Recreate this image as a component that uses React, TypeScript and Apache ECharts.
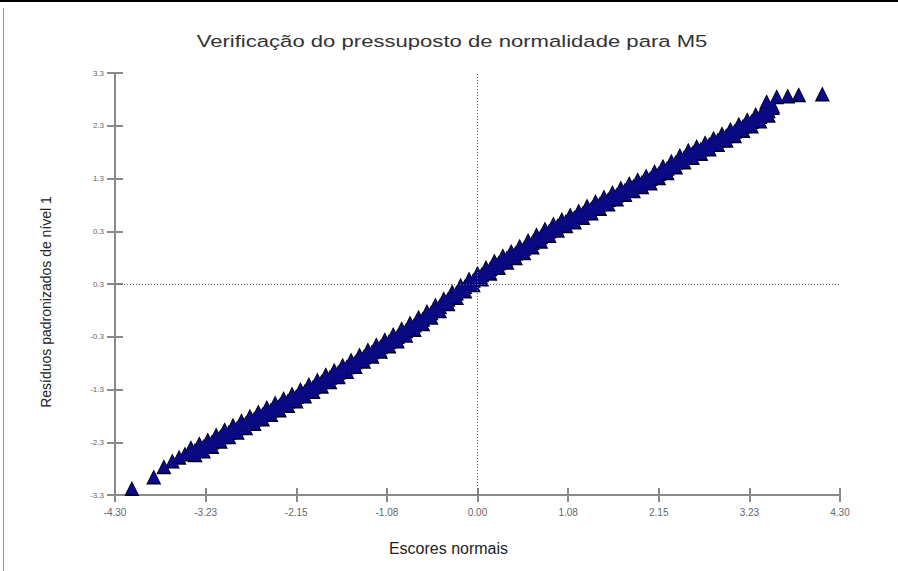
import React, { useEffect, useRef } from "react";
import * as echarts from "echarts";

const titleText = "Verificação do pressuposto de normalidade para M5";
const xAxisName = "Escores normais";
const yAxisName = "Resíduos padronizados de nível 1";

const xTickLabels = ["-4.30", "-3.23", "-2.15", "-1.08", "0.00", "1.08", "2.15", "3.23", "4.30"];
const yTickLabels = ["-3.3", "-2.3", "-1.3", "-0.3", "0.3", "0.3", "1.3", "2.3", "3.3"];

// lower tail (isolated triangles)
const lowTailX = [-4.1, -3.84, -3.72, -3.62, -3.54, -3.47];
const lowTailY = [-3.2, -3.02, -2.86, -2.77, -2.71, -2.66];

// dense band of points: normal scores
const bandX = [
  -3.4, -3.35, -3.3, -3.25, -3.2, -3.15, -3.1, -3.05, -3.0, -2.95, -2.9, -2.85, -2.8, -2.75, -2.7, -2.65,
  -2.6, -2.55, -2.5, -2.45, -2.4, -2.35, -2.3, -2.25, -2.2, -2.15, -2.1, -2.05, -2.0, -1.95, -1.9, -1.85,
  -1.8, -1.75, -1.7, -1.65, -1.6, -1.55, -1.5, -1.45, -1.4, -1.35, -1.3, -1.25, -1.2, -1.15, -1.1, -1.05,
  -1.0, -0.95, -0.9, -0.85, -0.8, -0.75, -0.7, -0.65, -0.6, -0.55, -0.5, -0.45, -0.4, -0.35, -0.3, -0.25,
  -0.2, -0.15, -0.1, -0.05, 0.0, 0.05, 0.1, 0.15, 0.2, 0.25, 0.3, 0.35, 0.4, 0.45, 0.5, 0.55,
  0.6, 0.65, 0.7, 0.75, 0.8, 0.85, 0.9, 0.95, 1.0, 1.05, 1.1, 1.15, 1.2, 1.25, 1.3, 1.35,
  1.4, 1.45, 1.5, 1.55, 1.6, 1.65, 1.7, 1.75, 1.8, 1.85, 1.9, 1.95, 2.0, 2.05, 2.1, 2.15,
  2.2, 2.25, 2.3, 2.35, 2.4, 2.45, 2.5, 2.55, 2.6, 2.65, 2.7, 2.75, 2.8, 2.85, 2.9, 2.95,
  3.0, 3.05, 3.1, 3.15, 3.2, 3.25, 3.3, 3.35, 3.4, 3.45, 3.5,
];
// residuals along the outer edges of the band (alternating upper / lower)
const bandEdgeY = [
  -2.56, -2.67, -2.5, -2.61, -2.44, -2.54, -2.36, -2.46, -2.28, -2.39, -2.21, -2.32, -2.14, -2.25, -2.07, -2.18,
  -2.0, -2.11, -1.93, -2.04, -1.86, -1.97, -1.79, -1.9, -1.72, -1.83, -1.65, -1.75, -1.57, -1.68, -1.5, -1.6,
  -1.42, -1.53, -1.35, -1.45, -1.27, -1.37, -1.19, -1.29, -1.11, -1.21, -1.03, -1.13, -0.95, -1.05, -0.87, -0.97,
  -0.79, -0.89, -0.7, -0.8, -0.61, -0.71, -0.52, -0.62, -0.43, -0.52, -0.33, -0.42, -0.23, -0.31, -0.12, -0.21,
  -0.02, -0.11, 0.08, -0.01, 0.17, 0.08, 0.26, 0.17, 0.36, 0.26, 0.44, 0.34, 0.51, 0.41, 0.59, 0.49,
  0.68, 0.58, 0.77, 0.67, 0.86, 0.76, 0.94, 0.84, 1.01, 0.91, 1.08, 0.97, 1.14, 1.04, 1.22, 1.11,
  1.29, 1.18, 1.36, 1.25, 1.43, 1.33, 1.5, 1.4, 1.57, 1.46, 1.63, 1.52, 1.69, 1.58, 1.76, 1.66,
  1.84, 1.74, 1.92, 1.83, 2.01, 1.91, 2.09, 1.98, 2.15, 2.04, 2.21, 2.11, 2.28, 2.18, 2.35, 2.25,
  2.42, 2.32, 2.5, 2.4, 2.57, 2.47, 2.65, 2.55, 2.73, 2.64, 2.79,
];
// residuals along the middle of the band
const bandMidY = [
  -2.63, -2.6, -2.57, -2.54, -2.51, -2.47, -2.43, -2.39, -2.35, -2.32, -2.28, -2.25, -2.21, -2.18, -2.14, -2.11,
  -2.07, -2.04, -2.0, -1.97, -1.93, -1.9, -1.86, -1.83, -1.79, -1.76, -1.72, -1.68, -1.64, -1.61, -1.57, -1.53,
  -1.49, -1.46, -1.42, -1.38, -1.34, -1.3, -1.26, -1.22, -1.18, -1.14, -1.1, -1.06, -1.02, -0.98, -0.94, -0.9,
  -0.86, -0.82, -0.77, -0.73, -0.68, -0.64, -0.59, -0.55, -0.5, -0.45, -0.4, -0.35, -0.3, -0.24, -0.19, -0.14,
  -0.09, -0.04, 0.01, 0.06, 0.1, 0.15, 0.19, 0.24, 0.29, 0.33, 0.37, 0.41, 0.44, 0.48, 0.52, 0.56,
  0.61, 0.65, 0.7, 0.74, 0.79, 0.83, 0.87, 0.91, 0.94, 0.98, 1.01, 1.04, 1.07, 1.11, 1.15, 1.18,
  1.22, 1.25, 1.29, 1.32, 1.36, 1.39, 1.43, 1.47, 1.5, 1.53, 1.56, 1.59, 1.62, 1.65, 1.69, 1.73,
  1.77, 1.81, 1.85, 1.9, 1.94, 1.98, 2.02, 2.05, 2.08, 2.11, 2.14, 2.18, 2.21, 2.25, 2.28, 2.32,
  2.35, 2.39, 2.43, 2.47, 2.5, 2.54, 2.58, 2.62, 2.66, 2.71, 2.76,
];

// upper tail (isolated triangles)
const highTailX = [3.43, 3.55, 3.68, 3.81, 4.09];
const highTailY = [2.85, 2.93, 2.94, 2.96, 2.97];

const X_MIN = -4.3;
const X_MAX = 4.3;
const X_STEP = 1.075;
const Y_MIN = -3.3;
const Y_MAX = 3.3;
const Y_STEP = 0.825;

const FONT = "'Liberation Sans', Arial, sans-serif";

export default function App() {
  const ref = useRef<HTMLDivElement>(null);

  useEffect(() => {
    if (!ref.current) return;
    const chart = echarts.init(ref.current, undefined, { renderer: "svg" });

    const points: number[][] = [];
    lowTailX.forEach((x, i) => points.push([x, lowTailY[i]]));
    bandX.forEach((x, i) => points.push([x, bandEdgeY[i]]));
    bandX.forEach((x, i) => points.push([x, bandMidY[i]]));
    highTailX.forEach((x, i) => points.push([x, highTailY[i]]));

    const axisLineStyle = { color: "#8a8a8a", width: 2 };

    const option: any = {
      animation: false,
      backgroundColor: "#ffffff",
      textStyle: { fontFamily: FONT },
      grid: { left: 115, right: 58, top: 73, bottom: 76, containLabel: false },
      graphic: [
        { type: "rect", shape: { x: 0, y: 0, width: 898, height: 2 }, style: { fill: "#000" }, silent: true },
        { type: "rect", shape: { x: 3, y: 8, width: 1, height: 563 }, style: { fill: "#9a9a9a" }, silent: true },
        {
          type: "text",
          x: 452,
          y: 41,
          scaleX: 1.3,
          style: {
            text: titleText,
            fontSize: 17,
            fontFamily: FONT,
            fill: "#333",
            textAlign: "center",
            textVerticalAlign: "middle",
          },
          silent: true,
        },
      ],
      xAxis: [
        {
          type: "value",
          position: "bottom",
          min: X_MIN,
          max: X_MAX,
          interval: X_STEP,
          name: xAxisName,
          nameLocation: "middle",
          nameGap: 45,
          nameTextStyle: { fontSize: 16, color: "#222", fontFamily: FONT, padding: [0, 58, 0, 0] },
          axisLine: { show: true, onZero: false, lineStyle: axisLineStyle },
          axisTick: { show: true, inside: false, length: 7, lineStyle: axisLineStyle },
          axisLabel: {
            show: true,
            margin: 12,
            fontSize: 10,
            color: "#666",
            fontFamily: FONT,
            formatter: (v: number) => xTickLabels[Math.round((v - X_MIN) / X_STEP)] ?? "",
          },
          splitLine: { show: false },
        },
        {
          type: "value",
          position: "bottom",
          min: X_MIN,
          max: X_MAX,
          interval: X_STEP,
          axisLine: { show: false, onZero: false },
          axisTick: { show: true, inside: true, length: 7, lineStyle: axisLineStyle },
          axisLabel: { show: false },
          splitLine: { show: false },
        },
      ],
      yAxis: [
        {
          type: "value",
          position: "left",
          min: Y_MIN,
          max: Y_MAX,
          interval: Y_STEP,
          name: yAxisName,
          nameLocation: "middle",
          nameGap: 62,
          nameRotate: 90,
          nameTextStyle: { fontSize: 14, color: "#222", fontFamily: FONT, padding: [0, 36, 0, 0] },
          axisLine: { show: true, onZero: false, lineStyle: axisLineStyle },
          axisTick: { show: true, inside: false, length: 8, lineStyle: axisLineStyle },
          axisLabel: {
            show: true,
            margin: 11,
            fontSize: 8,
            color: "#666",
            fontFamily: FONT,
            formatter: (v: number) => yTickLabels[Math.round((v - Y_MIN) / Y_STEP)] ?? "",
          },
          splitLine: { show: false },
        },
        {
          type: "value",
          position: "left",
          min: Y_MIN,
          max: Y_MAX,
          interval: Y_STEP,
          axisLine: { show: false, onZero: false },
          axisTick: { show: true, inside: true, length: 8, lineStyle: axisLineStyle },
          axisLabel: { show: false },
          splitLine: { show: false },
        },
      ],
      series: [
        {
          type: "scatter",
          xAxisIndex: 0,
          yAxisIndex: 0,
          z: 1,
          data: [],
          markLine: {
            silent: true,
            symbol: ["none", "none"],
            label: { show: false },
            lineStyle: { type: [1, 2], color: "#666", width: 1 },
            data: [{ xAxis: 0 }, { yAxis: 0 }],
          },
        },
        {
          type: "scatter",
          xAxisIndex: 0,
          yAxisIndex: 0,
          symbol: "triangle",
          symbolSize: 15,
          z: 2,
          silent: true,
          itemStyle: { color: "#000000", opacity: 1 },
          data: points,
        },
        {
          type: "scatter",
          xAxisIndex: 0,
          yAxisIndex: 0,
          symbol: "triangle",
          symbolSize: 12,
          z: 3,
          itemStyle: { color: "#0b0b8a", borderColor: "#06066a", borderWidth: 0.5, opacity: 1 },
          data: points,
        },
      ],
    };

    chart.setOption(option);
    return () => chart.dispose();
  }, []);

  return (
    <div
      ref={ref}
      style={{ position: "absolute", left: 0, top: 0, width: 898, height: 571 }}
    />
  );
}
